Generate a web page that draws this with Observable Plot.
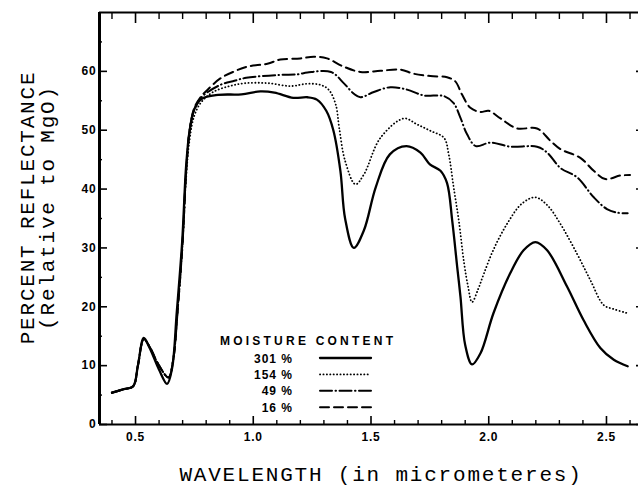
<!DOCTYPE html>
<html><head><meta charset="utf-8">
<script src="https://cdn.jsdelivr.net/npm/d3@7"></script>
<script src="https://cdn.jsdelivr.net/npm/@observablehq/plot@0.6"></script>
<style>body{margin:0;background:#fff;overflow:hidden}</style>
</head><body><div id="chart"></div>
<script>
// Moisture content series labels
const seriesNames = ["301 %", "154 %", "49 %", "16 %"];

// 301 % (solid)
const wl301 = [0.40,0.45,0.49,0.51,0.535,0.56,0.60,0.634,0.655,0.675,0.698,0.715,0.73,0.75,0.78,0.85,0.95,1.03,1.09,1.17,1.23,1.27,1.31,1.34,1.37,1.39,1.427,1.47,1.52,1.58,1.65,1.71,1.75,1.795,1.823,1.845,1.866,1.88,1.90,1.929,1.965,2.02,2.09,2.148,2.198,2.248,2.333,2.403,2.474,2.531,2.59];
const r301  = [5.4,6.0,6.5,10,14.7,13.0,9.3,6.9,9.5,19,31,44,50,53.6,55.3,56.0,56.1,56.6,56.4,55.5,55.6,55.2,53.3,50,43.1,35,30.0,33,40.3,45.9,47.3,46.2,44.2,43.1,41,34.6,26.8,21.7,13.5,10.2,12.1,18.9,25.6,29.6,31.0,29.6,23.4,17.7,13.0,11.0,9.9];

// 154 % (dotted)
const wl154 = [0.40,0.45,0.49,0.51,0.535,0.56,0.60,0.64,0.66,0.68,0.70,0.715,0.73,0.75,0.78,0.83,0.90,0.97,1.06,1.16,1.23,1.285,1.32,1.35,1.365,1.39,1.434,1.47,1.54,1.64,1.695,1.752,1.81,1.83,1.851,1.873,1.895,1.912,1.929,1.955,1.979,2.021,2.078,2.14,2.198,2.25,2.304,2.375,2.432,2.488,2.531,2.59];
const r154  = [5.4,6.0,6.5,10,14.5,13.2,10,8,11,20,31,42,48.5,52.5,54.8,56.5,57.5,58.0,58.0,57.5,57.9,57.7,56.9,54.4,50.4,44.8,40.8,42.5,48.7,52.0,51.0,49.9,48.7,45.9,40.3,34.6,27.5,23.5,20.8,23,25.6,29.8,34.1,37.5,38.6,37.2,34.1,29.0,24.5,20.3,19.6,18.9];

// 49 % (dash-dot)
const wl49 = [0.40,0.45,0.49,0.51,0.535,0.56,0.60,0.64,0.66,0.68,0.70,0.715,0.73,0.75,0.78,0.86,0.92,0.97,1.11,1.19,1.23,1.33,1.384,1.427,1.455,1.512,1.582,1.653,1.724,1.809,1.851,1.88,1.908,1.945,2.007,2.092,2.205,2.248,2.304,2.375,2.446,2.502,2.545,2.59];
const r49  = [5.4,6.0,6.5,10,14.5,13.2,10,8,11,20,31,43,50,53.5,55.6,57.7,58.4,58.9,59.4,59.5,59.8,59.9,58.0,56.2,55.6,56.5,57.3,56.9,55.9,55.8,54.6,52.1,49.3,47.3,47.9,47.2,47.2,46.2,43.6,42.0,38.6,36.6,36.0,35.9];

// 16 % (dashed)
const wl16 = [0.40,0.45,0.49,0.51,0.535,0.56,0.60,0.64,0.66,0.68,0.70,0.715,0.73,0.75,0.78,0.804,0.86,0.92,0.974,1.06,1.115,1.2,1.257,1.313,1.384,1.455,1.54,1.625,1.681,1.752,1.823,1.858,1.886,1.922,1.965,2.0,2.05,2.12,2.205,2.262,2.304,2.389,2.446,2.495,2.559,2.60];
const r16  = [5.4,6.0,6.5,10,14.5,13.2,10,8,11,20,31,43,50,53.8,55.8,56.8,58.8,60.0,60.8,61.3,62.0,62.2,62.5,62.2,60.8,59.9,60.1,60.3,59.6,59.2,59.0,58.3,56.1,53.8,53.1,53.3,52.0,50.3,50.3,48.2,46.8,45.3,43.1,41.7,42.3,42.4];

// axes
const xDomain = [0.347, 2.636];
const yDomain = [0, 70];
const xMajor = [0.5, 1.0, 1.5, 2.0, 2.5];
const xMinor = [0.4,0.6,0.7,0.8,0.9,1.1,1.2,1.3,1.4,1.6,1.7,1.8,1.9,2.1,2.2,2.3,2.4,2.6];
const yMajor = [0, 10, 20, 30, 40, 50, 60];
const yMinor = [5, 15, 25, 35, 45, 55, 65];
const xTitle = "WAVELENGTH (in micrometeres)";
const yTitle1 = "PERCENT REFLECTANCE";
const yTitle2 = "(Relative to MgO)";
const legendTitle = "MOISTURE CONTENT";

const wls = [wl301, wl154, wl49, wl16];
const rs = [r301, r154, r49, r16];
const series = seriesNames.map((name, k) => wls[k].map((w, i) => ({name, w, r: rs[k][i]})));
const styles = [
  {strokeWidth: 2.3, strokeDasharray: null},
  {strokeWidth: 1.8, strokeDasharray: "0.2 3.2"},
  {strokeWidth: 2.0, strokeDasharray: "12 3.5 0.5 3.5"},
  {strokeWidth: 2.0, strokeDasharray: "9 5"}
];

const mono = "Liberation Mono, DejaVu Sans Mono, monospace";
const tickTextOpts = {fontWeight: "bold", fontSize: 12, label: null};
const titleOpts = {text: d => d, fontFamily: mono, fontSize: 21, fill: "black", textAnchor: "middle", lineAnchor: "middle"};

const plot = Plot.plot({
  width: 638, height: 489,
  marginLeft: 99, marginRight: 0, marginTop: 12, marginBottom: 65,
  style: {fontFamily: "Liberation Sans, Arial, sans-serif", fontSize: "12px", color: "black", background: "white"},
  x: {domain: xDomain},
  y: {domain: yDomain},
  marks: [
    // frame lines
    Plot.ruleX([xDomain[0]], {stroke: "black", strokeWidth: 3}),
    Plot.ruleY([yDomain[0]], {stroke: "black", strokeWidth: 2}),
    Plot.ruleY([yDomain[1]], {stroke: "black", strokeWidth: 2}),
    // bottom ticks (inward)
    Plot.axisX(xMajor, {anchor: "bottom", tickSize: -8, strokeWidth: 1.6, tickFormat: () => "", label: null}),
    Plot.axisX(xMinor, {anchor: "bottom", tickSize: -4, strokeWidth: 1.4, tickFormat: () => "", label: null}),
    Plot.axisX(xMajor, {anchor: "bottom", tickSize: 0, tickPadding: 8, tickFormat: d => d.toFixed(1), ...tickTextOpts}),
    // top ticks (inward)
    Plot.axisX(xMajor, {anchor: "top", tickSize: -10, strokeWidth: 1.6, tickFormat: () => "", label: null}),
    Plot.axisX(xMinor, {anchor: "top", tickSize: -6, strokeWidth: 1.4, tickFormat: () => "", label: null}),
    // left ticks
    Plot.axisY(yMajor, {anchor: "left", tickSize: -8, strokeWidth: 1.6, tickFormat: () => "", label: null}),
    Plot.axisY(yMinor, {anchor: "left", tickSize: -3, strokeWidth: 1.4, tickFormat: () => "", label: null}),
    Plot.axisY(yMajor, {anchor: "left", tickSize: 0, tickPadding: 3, ...tickTextOpts}),
    // right ticks
    Plot.axisY(yMajor, {anchor: "right", tickSize: -3, strokeWidth: 1.6, tickFormat: () => "", label: null}),
    // curves
    ...series.map((data, k) => Plot.line(data, {x: "w", y: "r", stroke: "black", curve: "catmull-rom", ...styles[k]})),
    // axis titles
    Plot.text([xTitle], {...titleOpts, frameAnchor: "bottom", dx: 12, dy: 50}),
    Plot.text([yTitle1], {...titleOpts, frameAnchor: "left", rotate: -90, dx: -72, dy: -11}),
    Plot.text([yTitle2], {...titleOpts, frameAnchor: "left", rotate: -90, dx: -52, dy: -11})
  ]
});

// letter spacing for typewriter-style titles
d3.select(plot).selectAll("text").filter(function(){ return this.textContent === xTitle || this.textContent === yTitle1 || this.textContent === yTitle2; })
  .style("letter-spacing", "1.8px");
d3.select(plot).selectAll("g[aria-label='x-axis tick label'] text, g[aria-label='y-axis tick label'] text").style("letter-spacing", "0.8px");

// legend
const lg = d3.select(plot).append("g").attr("font-family", "Liberation Sans, Arial, sans-serif").attr("font-weight", "bold").attr("font-size", 12).attr("fill", "black");
lg.append("text").attr("x", 220).attr("y", 345).attr("text-anchor", "start").attr("textLength", 173).attr("lengthAdjust", "spacing").text(legendTitle);
seriesNames.forEach((name, k) => {
  const y = 358 + k * 16.4;
  lg.append("text").attr("x", 293).attr("y", y + 4.5).attr("text-anchor", "end").attr("letter-spacing", "1px").text(name);
  lg.append("line").attr("x1", 320).attr("x2", 371).attr("y1", y).attr("y2", y)
    .attr("stroke", "black").attr("stroke-width", styles[k].strokeWidth)
    .attr("stroke-linecap", "round")
    .attr("stroke-dasharray", styles[k].strokeDasharray);
});

document.getElementById("chart").appendChild(plot);
</script>
</body></html>
